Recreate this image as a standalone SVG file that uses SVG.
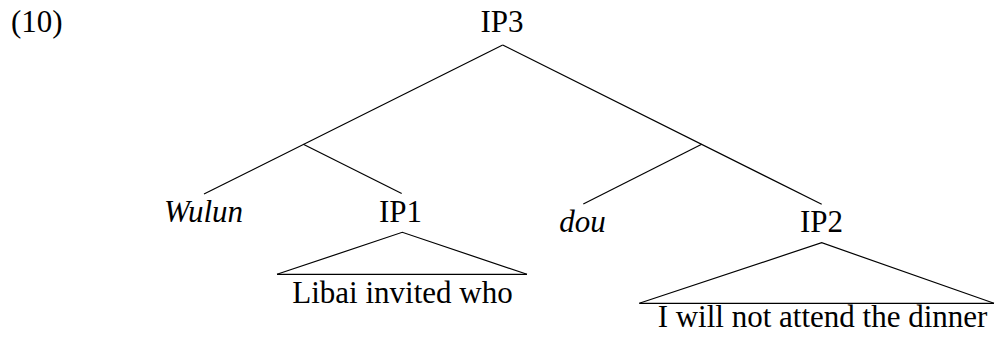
<svg xmlns="http://www.w3.org/2000/svg" width="995" height="339" viewBox="0 0 995 339">
<style>
text{font-family:"Liberation Serif","Times New Roman",serif;font-size:31px;fill:#000;text-anchor:middle}
.it{font-style:italic}
line,polyline{stroke:#000;stroke-width:1.2;fill:none}
</style>
<rect width="995" height="339" fill="#fff"/>
<text x="11" y="32" style="text-anchor:start">(10)</text>
<g id="connectors">
<line x1="502.7" y1="45" x2="204" y2="194"/>
<line x1="303.3" y1="144.3" x2="401.7" y2="193.5"/>
<line x1="502.7" y1="45" x2="821.7" y2="204.3"/>
<line x1="701.7" y1="144.3" x2="583.3" y2="204"/>
</g>
<g id="IP3"><text x="502" y="31.5">IP3</text></g>
<g id="Wulun"><text class="it" x="203.5" y="221.7">Wulun</text></g>
<g id="IP1">
<text x="400.5" y="222">IP1</text>
<polyline points="277,274.3 402.3,232.3 527,274.3"/>
<line x1="277" y1="274.3" x2="527" y2="274.3"/>
<text x="402.5" y="303">Libai invited who</text>
</g>
<g id="dou"><text class="it" x="582.5" y="232">dou</text></g>
<g id="IP2">
<text x="821.5" y="232">IP2</text>
<polyline points="639.3,303.3 821.7,242.7 994,303.3"/>
<line x1="639.3" y1="303.3" x2="994" y2="303.3"/>
<text x="822.5" y="326.5">I will not attend the dinner</text>
</g>
</svg>
